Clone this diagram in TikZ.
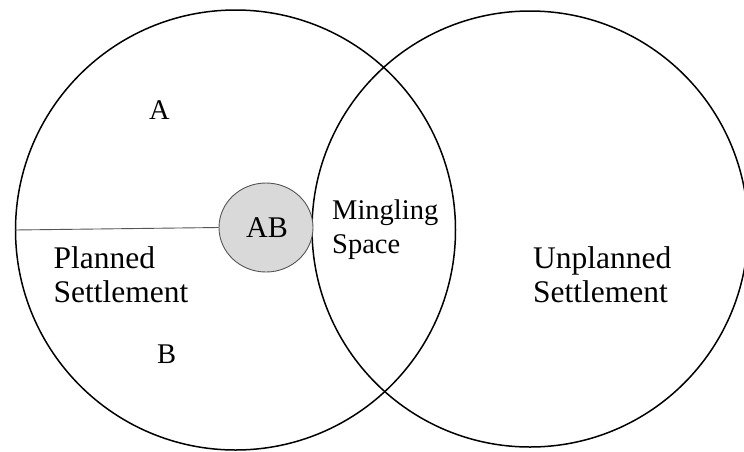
\documentclass[tikz,border=0pt]{standalone}
\usepackage{fontspec}
\setmainfont{Liberation Serif}
\usetikzlibrary{shapes.geometric}
\definecolor{abfill}{HTML}{D9D9D9}
\definecolor{abline}{HTML}{555555}
\begin{document}
\begin{tikzpicture}[x=1pt,y=-1pt,
  bigcircle/.style={draw=black,line width=1.5pt,shape=circle,inner sep=0pt},
  lbl/.style={inner sep=0pt,anchor=base west,font=\fontsize{31.5}{34}\selectfont},
  slbl/.style={inner sep=0pt,anchor=base west,font=\fontsize{28.5}{34}\selectfont}]
\useasboundingbox (0,0) rectangle (744,451);
\fill[white] (0,0) rectangle (744,451);
\node[bigcircle,minimum size=440pt] (left) at (235.5,230) {};
\node[bigcircle,minimum size=436pt] (right) at (530,229) {};
\node[shape=ellipse,draw=abline,fill=abfill,line width=0.9pt,inner sep=0pt,
      minimum width=94pt,minimum height=89pt] (ab) at (266,227.5) {};
\draw[abline,line width=0.9pt] (left.west) -- (ab.west);
\node[inner sep=0pt,anchor=base west,font=\fontsize{30}{34}\selectfont] (abt) at (246,237) {AB};
\node[slbl] (a) at (149,119) {A};
\node[slbl] (b) at (157,363) {B};
\node[slbl] (ming) at (332,219) {Mingling};
\node[slbl] (space) at (332,253) {Space};
\node[lbl] (pl1) at (53.5,268) {Planned};
\node[lbl] (pl2) at (53.5,302) {Settlement};
\node[lbl] (un1) at (533,268) {Unplanned};
\node[lbl] (un2) at (533,302) {Settlement};
\end{tikzpicture}
\end{document}
